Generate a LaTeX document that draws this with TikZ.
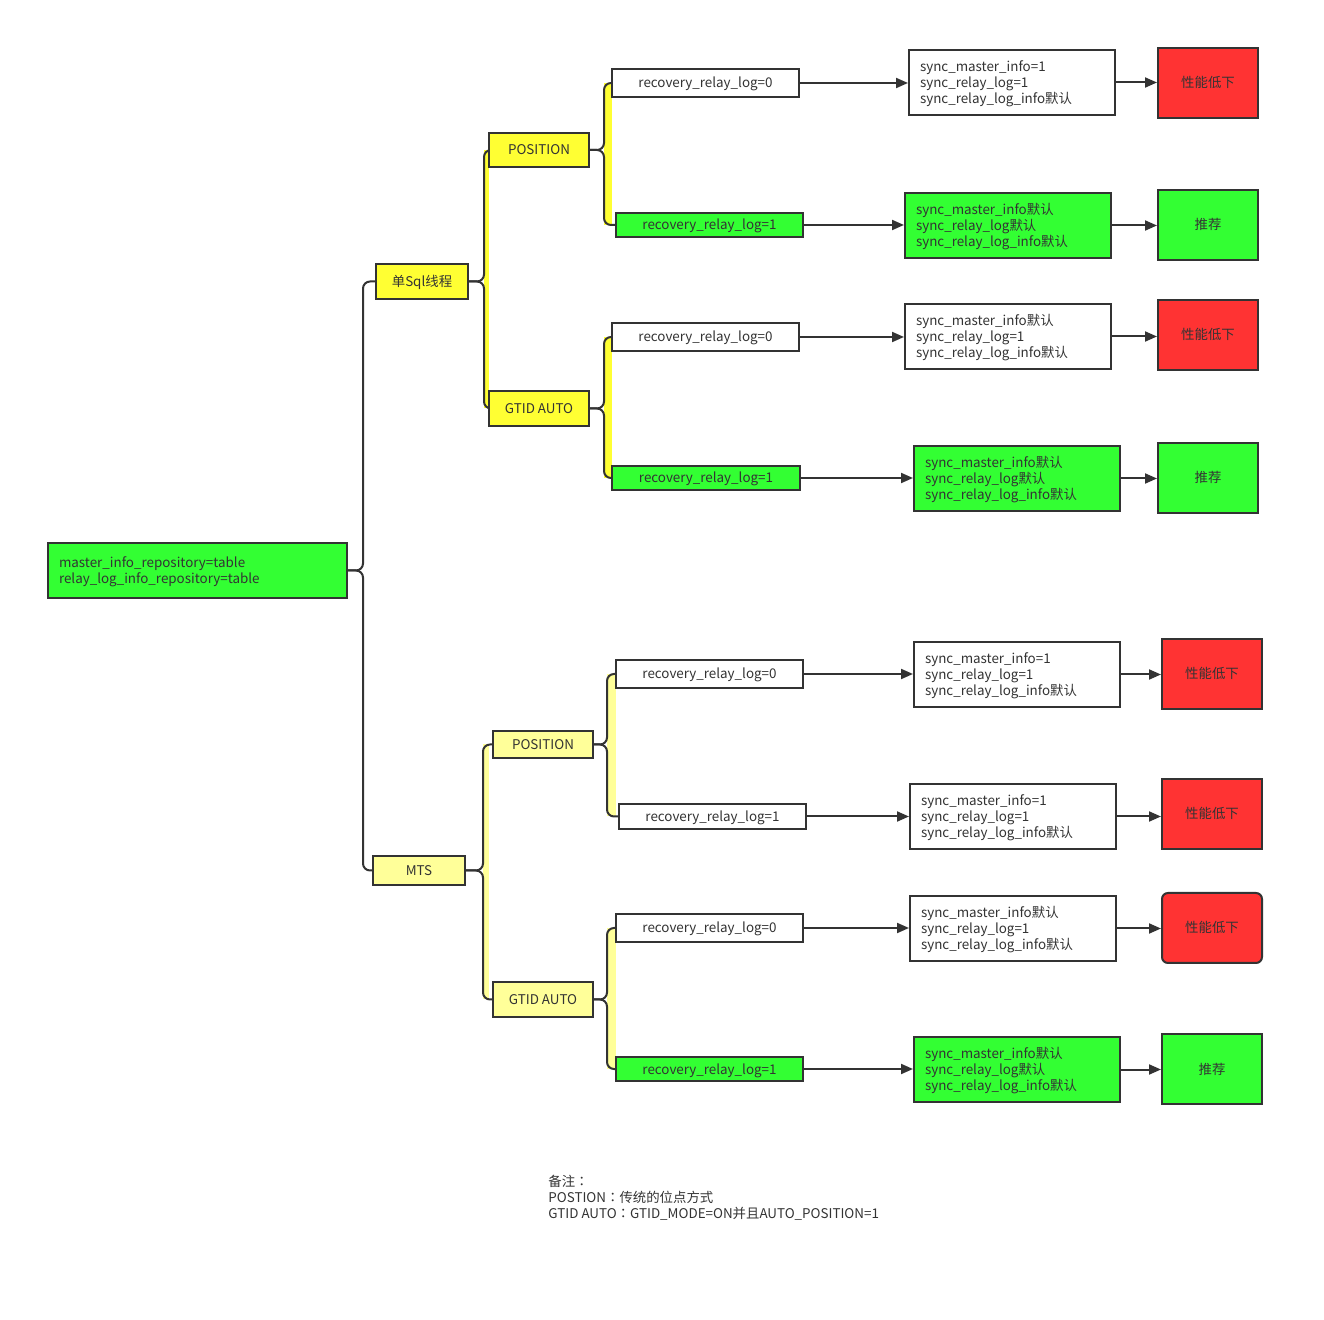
\documentclass[tikz,border=0pt]{standalone}
\usepackage{fontspec}
\setmainfont{Noto Sans CJK SC}
\newfontfamily\tcfont{Noto Sans CJK TC}
\usetikzlibrary{arrows.meta,backgrounds}
\definecolor{ln}{HTML}{333333}
\definecolor{gr}{HTML}{33FF33}
\definecolor{rd}{HTML}{FF3333}
\definecolor{yl}{HTML}{FFFF33}
\definecolor{py}{HTML}{FFFF99}
\tikzset{
  base/.style={draw=ln, line width=1pt, text=ln, inner sep=0pt, font=\fontsize{6.7pt}{8pt}\selectfont},
  cbox/.style={base, align=center},
  lbox/.style={base, align=left, inner xsep=5.5pt},
  brc/.style={draw=ln, line width=1pt, rounded corners=3.5pt},
  arr/.style={draw=ln, line width=1pt, -{Triangle[length=6pt,width=5pt]}},
}
\newcommand\sA{\rule{0pt}{8pt}}
\newcommand\sD{\rule[-3pt]{0pt}{3pt}}
\newcommand\cbx[7]{%
  \pgfmathsetmacro\myW{(#4-#2)*0.5}\pgfmathsetmacro\myH{(#5-#3)*0.5}%
  \pgfmathsetmacro\myX{(#2+#4)/2}\pgfmathsetmacro\myY{(#3+#5)/2}%
  \node[cbox, #6, minimum width=\myW pt, minimum height=\myH pt] (#1) at (\myX,\myY) {\sA\sD#7};}
\newcommand\lbx[7]{%
  \pgfmathsetmacro\myW{(#4-#2-22)*0.5}\pgfmathsetmacro\myH{(#5-#3)*0.5}%
  \pgfmathsetmacro\myX{(#2+#4)/2}\pgfmathsetmacro\myY{(#3+#5)/2}%
  \node[lbox, #6, text width=\myW pt, minimum height=\myH pt] (#1) at (\myX,\myY) {\sA#7\sD};}
% brace: parent, xb, child1, child2, band colour, band right x
\newcommand\mybrace[6]{%
  \coordinate (bx) at (#2,0);
  \ifx&#5&\else\fill[#5] (#3.west -| bx) rectangle (#4.west -| #6,0);\fi
  \draw[brc] (#3.west) -- (#3.west -| bx) -- (#1.east -| bx) -- (#1.east);
  \draw[brc] (#4.west) -- (#4.west -| bx) -- (#1.east -| bx) -- (#1.east);}
\newcommand\syA{sync\_master\_info=1\\sync\_relay\_log=1\\sync\_relay\_log\_info默认}
\newcommand\syB{sync\_master\_info默认\\sync\_relay\_log默认\\sync\_relay\_log\_info默认}
\newcommand\syC{sync\_master\_info默认\\sync\_relay\_log=1\\sync\_relay\_log\_info默认}
\newcommand\cln{{\tcfont ：}}
\begin{document}
\begin{tikzpicture}[x=0.5pt,y=-0.5pt]
\useasboundingbox (0,0) rectangle (1324,1320);
% root
\lbx{root}{48}{543}{347}{598}{fill=gr}{master\_info\_repository=table\\relay\_log\_info\_repository=table}
% upper branch
\cbx{sq}{376}{264}{468}{299}{fill=yl}{单Sql线程}
\cbx{p1}{489}{133}{589}{167}{fill=yl}{POSITION}
\cbx{g1}{489}{391}{589}{426}{fill=yl}{GTID AUTO}
\cbx{r11}{612}{69}{799}{97}{fill=white}{recovery\_relay\_log=0}
\cbx{r12}{616}{213}{803}{237}{fill=gr}{recovery\_relay\_log=1}
\cbx{r21}{612}{323}{799}{351}{fill=white}{recovery\_relay\_log=0}
\cbx{r22}{612}{466}{800}{490}{fill=gr}{recovery\_relay\_log=1}
\lbx{s11}{909}{50}{1115}{115}{fill=white}{\syA}
\lbx{s12}{905}{193}{1111}{258}{fill=gr}{\syB}
\lbx{s21}{905}{304}{1111}{369}{fill=white}{\syC}
\lbx{s22}{914}{446}{1120}{511}{fill=gr}{\syB}
\cbx{o11}{1158}{48}{1258}{118}{fill=rd}{性能低下}
\cbx{o12}{1158}{190}{1258}{260}{fill=gr}{推荐}
\cbx{o21}{1158}{300}{1258}{370}{fill=rd}{性能低下}
\cbx{o22}{1158}{443}{1258}{513}{fill=gr}{推荐}
% lower branch
\cbx{mts}{373}{856}{465}{885}{fill=py}{MTS}
\cbx{p2}{493}{731}{593}{758}{fill=py}{POSITION}
\cbx{g2}{493}{982}{593}{1017}{fill=py}{GTID AUTO}
\cbx{r31}{616}{660}{803}{688}{fill=white}{recovery\_relay\_log=0}
\cbx{r32}{619}{804}{806}{829}{fill=white}{recovery\_relay\_log=1}
\cbx{r41}{616}{914}{803}{942}{fill=white}{recovery\_relay\_log=0}
\cbx{r42}{616}{1057}{803}{1081}{fill=gr}{recovery\_relay\_log=1}
\lbx{s31}{914}{642}{1120}{707}{fill=white}{\syA}
\lbx{s32}{910}{784}{1116}{849}{fill=white}{\syA}
\lbx{s41}{910}{896}{1116}{961}{fill=white}{\syC}
\lbx{s42}{914}{1037}{1120}{1102}{fill=gr}{\syB}
\cbx{o31}{1162}{639}{1262}{709}{fill=rd}{性能低下}
\cbx{o32}{1162}{779}{1262}{849}{fill=rd}{性能低下}
\cbx{o41}{1162}{893}{1262}{963}{fill=rd, rounded corners=3pt}{性能低下}
\cbx{o42}{1162}{1034}{1262}{1104}{fill=gr}{推荐}
% braces
\begin{scope}[on background layer]
\mybrace{root}{363}{sq}{mts}{}{0}
\mybrace{sq}{484}{p1}{g1}{yl}{489}
\mybrace{p1}{604}{r11}{r12}{yl}{612}
\mybrace{g1}{604}{r21}{r22}{yl}{612}
\mybrace{mts}{483}{p2}{g2}{py}{489}
\mybrace{p2}{607}{r31}{r32}{py}{616}
\mybrace{g2}{607}{r41}{r42}{py}{616}
\end{scope}
% arrows
\foreach \a/\b/\c in {r11/s11/o11, r12/s12/o12, r21/s21/o21, r22/s22/o22, r31/s31/o31, r32/s32/o32, r41/s41/o41, r42/s42/o42}{
  \draw[arr] (\a.east) -- (\b.west |- \a.east);
  \draw[arr] (\b.east) -- (\c.west |- \b.east);
}
% note
\node[text=ln, align=left, anchor=north west, inner sep=0pt, font=\fontsize{6.7pt}{8pt}\selectfont] (note) at (548,1175)
  {备注\cln\\POSTION\cln 传统的位点方式\\GTID AUTO\cln GTID\_MODE=ON并且AUTO\_POSITION=1};
\end{tikzpicture}
\end{document}
